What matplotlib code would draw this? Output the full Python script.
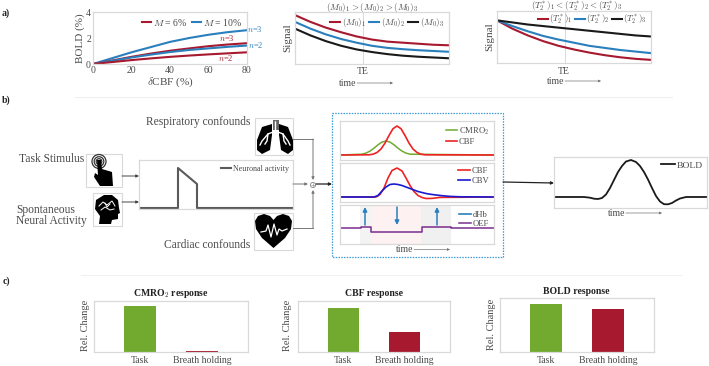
import matplotlib
matplotlib.use("Agg")
import matplotlib.pyplot as plt
from matplotlib.patches import Polygon, Circle, Rectangle
from matplotlib.lines import Line2D

plt.rcParams['font.family'] = ['Liberation Serif', 'DejaVu Serif']
plt.rcParams['mathtext.fontset'] = 'cm'

W, H = 709, 366
TXT = '#4a4a4a'
GRID = '#d9d9d9'
RED = '#a6192e'
BLUE = '#2a7fbd'
BLACK = '#1a1a1a'
GREEN = '#72a92f'
BRIGHT = '#ee2222'

# ---------- data ----------
cbf_pct = [0, 10, 20, 30, 40, 50, 60, 70, 80]
bold_m10_n3 = [0, .45, .90, 1.30, 1.70, 2.00, 2.25, 2.45, 2.60]
bold_m6_n3 = [0, .27, .55, .80, 1.02, 1.20, 1.37, 1.50, 1.60]
bold_m10_n2 = [0, .25, .50, .72, .92, 1.08, 1.20, 1.32, 1.42]
bold_m6_n2 = [0, .15, .30, .43, .55, .65, .74, .82, .90]

te_time = [0, 1, 2, 3, 4, 5, 6, 7, 8, 9, 10]
m0_1 = [.94, .81, .70, .61, .53, .47, .43, .41, .39, .37, .36]
m0_2 = [.81, .68, .57, .48, .41, .35, .31, .285, .265, .25, .235]
m0_3 = [.68, .55, .44, .35, .28, .23, .19, .16, .14, .125, .11]
t2_1 = [.82, .66, .53, .42, .33, .26, .20, .15, .11, .08, .06]
t2_2 = [.82, .71, .61, .52, .45, .39, .33, .29, .25, .22, .19]
t2_3 = [.82, .78, .74, .71, .68, .65, .62, .59, .56, .53, .51]

neuron_t = [0, 39, 39, 58, 58, 154]
neuron_y = [1, 1, 41, 25, 1, 1]

cbf_t = [0, 29, 33, 37, 41, 45, 49, 53, 57, 61, 65, 69, 73, 77, 81, 85, 154]
cbf_y = [5, 5.2, 5.8, 7.5, 11, 16.9, 24.5, 31.3, 34, 31.3, 24.5, 16.9, 11, 7.5, 5.8, 5.2, 5]
cmro_t = [0, 22, 26, 30, 34, 38, 42, 46, 50, 54, 58, 62, 66, 70, 154]
cmro_y = [5, 5.8, 6.9, 8.9, 11.8, 15.2, 17.9, 19, 17.9, 15.2, 11.8, 8.9, 6.9, 5.8, 5]
cbf2_t = [0, 36, 40, 44, 48, 52, 57, 62, 66, 70, 74, 78, 82, 86, 92, 100, 154]
cbf2_y = [5, 5, 7.5, 14, 24, 31.5, 34, 31, 24, 16.5, 10.5, 6.5, 4.5, 3.5, 3.6, 4.6, 5]
cbv_t = [0, 34, 38, 42, 46, 50, 54, 58, 62, 66, 70, 74, 78, 82, 86, 90, 96, 102, 110, 120, 154]
cbv_y = [5, 5, 6.5, 11, 15, 17.5, 18, 17.5, 16.5, 15, 13.5, 12, 10.5, 9.5, 8.5, 7.8, 7, 6.3, 5.6, 5.2, 5]
oef_t = [0, 21, 21, 31, 31, 82, 82, 111, 111, 154]
oef_y = [16, 16, 17, 17, 12, 12, 17, 17, 16, 16]

bold_t = [0, 30, 36, 40, 44, 48, 52, 56, 60, 64, 68, 72, 77, 82, 86, 90, 94, 98, 102, 106, 110, 114, 118, 122, 126, 132, 153]
bold_y = [11, 11, 10.3, 9.3, 9, 10, 13.5, 20, 28, 36, 42, 46.5, 48, 46, 42, 36, 28.5, 20, 12, 6.5, 3.8, 3.7, 5, 7.5, 9.5, 11, 11]

bar_labels = ['Task', 'Breath holding']
cmro_resp = [.90, .015]
cbf_resp = [.86, .39]
bold_resp = [.89, .80]

# ---------- helpers ----------
fig = plt.figure(figsize=(W / 100, H / 100), dpi=100, facecolor='white')


def px_axes(x0, y0, x1, y1, z=2):
    ax = fig.add_axes([x0 / W, 1 - y1 / H, (x1 - x0) / W, (y1 - y0) / H], zorder=z)
    for s in ax.spines.values():
        s.set_color(GRID)
        s.set_linewidth(0.9)
    ax.tick_params(length=0, colors=TXT, labelsize=7, pad=2)
    ax.set_xticks([])
    ax.set_yticks([])
    return ax


def small_legend(ax, handles, loc, fs=6.5, ncol=1, anchor=None, hl=1.6, cs=0.4):
    kw = {} if anchor is None else {'bbox_to_anchor': anchor}
    leg = ax.legend(handles=handles, loc=loc, ncol=ncol, frameon=False, fontsize=fs,
                    handlelength=hl, handletextpad=0.2, columnspacing=cs,
                    labelspacing=0.15, borderaxespad=0.1, borderpad=0.1, labelcolor=TXT, **kw)
    return leg


ov = fig.add_axes([0, 0, 1, 1], zorder=1)
ov.set_xlim(0, W)
ov.set_ylim(H, 0)
ov.axis('off')
top = fig.add_axes([0, 0, 1, 1], zorder=5)
top.set_xlim(0, W)
top.set_ylim(H, 0)
top.axis('off')


def label(x, y, s, ha='center', fs=8.3, **kw):
    kw.setdefault('color', TXT)
    top.text(x, y, s, ha=ha, va='center', fontsize=fs, **kw)


def arrow(x0, y0, x1, y1, color='#444444', lw=0.7, ms=4):
    top.annotate('', xy=(x1, y1), xytext=(x0, y0),
                 arrowprops=dict(arrowstyle='-|>', color=color, lw=lw, mutation_scale=ms,
                                 shrinkA=0, shrinkB=0))


def time_arrow(xt, y):
    label(xt, y, 'time', fs=7)
    arrow(xt + 9, y, xt + 45, y, color='#777777', lw=0.5, ms=3.5)


# section labels and separators
for x, y, s in [(2, 13, 'a)'), (2, 100, 'b)'), (3, 281, 'c)')]:
    label(x, y, s, ha='left', fs=7, fontweight='bold', color='#222222')
ov.plot([75, 672], [97, 97], color='#efefef', lw=0.8)
ov.plot([81, 681], [275, 275], color='#eef1f3', lw=0.8)

# ---------- panel a ----------
a1 = px_axes(93, 12, 247, 64)
a1.plot(cbf_pct, bold_m10_n3, color=BLUE, lw=1.5)
a1.plot(cbf_pct, bold_m6_n3, color=RED, lw=1.5)
a1.plot(cbf_pct, bold_m10_n2, color=BLUE, lw=1.5)
a1.plot(cbf_pct, bold_m6_n2, color=RED, lw=1.5)
a1.set_xlim(0, 80)
a1.set_ylim(0, 4)
a1.set_xticks([0, 20, 40, 60, 80])
a1.set_yticks([0, 2, 4])
a1.tick_params(labelsize=7, pad=1.5)
a1.set_xlabel(r'$\delta$CBF (%)', fontsize=8, color=TXT, labelpad=0)
a1.set_ylabel('BOLD (%)', fontsize=8, color=TXT, labelpad=1)
small_legend(a1, [Line2D([], [], color=RED, lw=1.5, label=r'$M$ = 6%'),
                  Line2D([], [], color=BLUE, lw=1.5, label=r'$M$ = 10%')],
             'upper right', fs=7, ncol=2, anchor=(0.985, 0.95), hl=1.0)
label(255, 29, r'$n$=3', fs=6, color=BLUE)
label(256, 45, r'$n$=2', fs=6, color=BLUE)
label(227, 38, r'$n$=3', fs=6, color=RED)
label(226, 58, r'$n$=2', fs=6, color=RED)

a2 = px_axes(295, 12, 449, 64)
a2.axvline(4.4, color=GRID, lw=0.7)
a2.plot(te_time, m0_1, color=RED, lw=1.5)
a2.plot(te_time, m0_2, color=BLUE, lw=1.5)
a2.plot(te_time, m0_3, color=BLACK, lw=1.5)
a2.set_xlim(0, 10)
a2.set_ylim(0, 1)
a2.set_ylabel('Signal', fontsize=8, color=TXT, labelpad=2)
small_legend(a2, [Line2D([], [], color=RED, lw=1.5, label=r'$(M_0)_1$'),
                  Line2D([], [], color=BLUE, lw=1.5, label=r'$(M_0)_2$'),
                  Line2D([], [], color=BLACK, lw=1.5, label=r'$(M_0)_3$')],
             'upper right', fs=6.5, ncol=3, anchor=(0.985, 0.95), hl=1.1, cs=0.3)
label(372, 7, r'$(M_0)_1 > (M_0)_2 > (M_0)_3$', fs=6.5)
label(363, 71, 'TE', fs=7)
time_arrow(348, 83)

a3 = px_axes(497, 11, 651, 63)
a3.axvline(4.4, color=GRID, lw=0.7)
a3.plot(te_time, t2_1, color=RED, lw=1.5)
a3.plot(te_time, t2_2, color=BLUE, lw=1.5)
a3.plot(te_time, t2_3, color=BLACK, lw=1.5)
a3.set_xlim(0, 10)
a3.set_ylim(0, 1)
a3.set_ylabel('Signal', fontsize=8, color=TXT, labelpad=2)
small_legend(a3, [Line2D([], [], color=RED, lw=1.5, label=r'$(T_2^*)_1$'),
                  Line2D([], [], color=BLUE, lw=1.5, label=r'$(T_2^*)_2$'),
                  Line2D([], [], color=BLACK, lw=1.5, label=r'$(T_2^*)_3$')],
             'upper right', fs=6.2, ncol=3, anchor=(0.985, 0.99), hl=1.1, cs=0.3)
label(577, 6, r'$(T_2^*)_1 < (T_2^*)_2 < (T_2^*)_3$', fs=6.5)
label(564, 71, 'TE', fs=7)
time_arrow(556, 81)

# ---------- panel b ----------
for x0, y0, x1, y1 in [(86, 154, 122, 187), (93, 193, 122, 226), (255, 118, 293, 155), (254, 213, 293, 250)]:
    ov.add_patch(Rectangle((x0, y0), x1 - x0, y1 - y0, fc='white', ec=GRID, lw=0.8))

# touch icon
for r in (7, 4.8, 2.8):
    ov.add_patch(Circle((99, 161.5), r, fc='none', ec='#333333', lw=0.9))
ov.add_patch(Polygon([(97, 160), (101, 160), (102, 169), (112, 172), (113, 186), (100, 186),
                      (94, 177), (95, 173), (98, 175)], fc='black', ec='none'))
# head icon
ov.add_patch(Polygon([(104, 195), (112, 195), (118, 200), (119, 208), (120, 213), (118, 214), (118, 219),
                      (112, 220), (111, 224), (99, 224), (100, 216), (95, 209), (96, 200)], fc='black', ec='none'))
for xs, ys in [([99, 103, 107, 112, 115], [206, 202, 205, 201, 206]),
               ([101, 105, 110, 114], [210, 207, 210, 209]),
               ([105, 107, 110], [203, 207, 204])]:
    ov.plot(xs, ys, color='white', lw=0.7)
# lungs icon
ov.add_patch(Polygon([(272, 124), (262, 127), (257, 140), (257, 150), (262, 154), (270, 150), (272, 135)], fc='black', ec='none'))
ov.add_patch(Polygon([(279, 124), (288, 127), (293, 140), (293, 150), (288, 154), (281, 150), (279, 135)], fc='black', ec='none'))
ov.add_patch(Rectangle((272.5, 120), 6, 10, fc='#666666', ec='none'))
for xs, ys in [([275.5, 275.5, 268, 262, 260], [122, 131, 134, 141, 145]), ([268, 267, 265], [134, 141, 144]),
               ([275.5, 283, 288, 290], [131, 134, 141, 145]), ([283, 284, 286], [134, 141, 144])]:
    ov.plot(xs, ys, color='white', lw=1.0)
# heart icon
ov.add_patch(Polygon([(273.5, 248), (262, 238), (256, 229), (255, 221), (258, 216), (264, 214), (270, 216), (273.5, 220),
                      (277, 216), (283, 214), (289, 216), (292, 221), (291, 229), (285, 238)], fc='black', ec='none'))
ov.plot([261, 266, 268, 271, 274, 277, 279, 282, 287], [232, 231, 225, 237, 224, 235, 229, 231, 229], color='white', lw=0.9)

label(84, 159, 'Task Stimulus', ha='right')
label(16, 210.5, 'Spontaneous', ha='left')
label(16, 221, 'Neural Activity', ha='left')
label(250, 122, 'Respiratory confounds', ha='right')
label(250, 245, 'Cardiac confounds', ha='right')

nb = px_axes(139, 160, 293, 209)
nb.plot(neuron_t, neuron_y, color='#5a5a5a', lw=1.5)
nb.set_xlim(0, 154)
nb.set_ylim(0, 49)
small_legend(nb, [Line2D([], [], color='#5a5a5a', lw=1.5, label='Neuronal activity')],
             'upper right', fs=5.8, anchor=(0.985, 0.93), hl=1.3)

arrow(122, 176, 139, 176)
arrow(122, 202, 139, 202)
arrow(293, 184, 308, 184, color='#777777')
ov.plot([293, 313], [139, 139], color='#777777', lw=0.7)
arrow(313, 139, 313, 180, color='#777777')
ov.plot([293, 313], [228, 228], color='#777777', lw=0.7)
arrow(313, 228, 313, 190, color='#777777')
top.add_patch(Circle((313, 185), 2.6, fc='white', ec='#888888', lw=0.6))
top.plot([311, 315], [185, 185], color='#888888', lw=0.4)
top.plot([313, 313], [183, 187], color='#888888', lw=0.4)
arrow(316, 184, 332, 184, color='#222222', lw=0.9)
arrow(503, 182, 554, 183, color='#222222', lw=0.9)

ov.add_patch(Rectangle((332, 113), 171, 144, fc='white', ec='#3f9bd0', lw=0.9, ls=(0, (1.2, 1.0))))

b1 = px_axes(340, 121, 494, 160)
b1.plot(cmro_t, cmro_y, color=GREEN, lw=1.1)
b1.plot(cbf_t, cbf_y, color=BRIGHT, lw=1.2)
b1.set_xlim(0, 154)
b1.set_ylim(0, 39)
small_legend(b1, [Line2D([], [], color=GREEN, lw=1.1, label=r'CMRO$_2$'),
                  Line2D([], [], color=BRIGHT, lw=1.2, label='CBF')],
             'upper right', fs=6.2, anchor=(0.98, 0.93), hl=1.3)

b2 = px_axes(340, 163, 494, 202)
b2.plot(cbf2_t, cbf2_y, color=BRIGHT, lw=1.2)
b2.plot(cbv_t, cbv_y, color='#1a1ad0', lw=1.2)
b2.set_xlim(0, 154)
b2.set_ylim(0, 39)
small_legend(b2, [Line2D([], [], color=BRIGHT, lw=1.2, label='CBF'),
                  Line2D([], [], color='#1a1ad0', lw=1.2, label='CBV')],
             'upper right', fs=6.2, anchor=(0.98, 0.93), hl=1.4)

b3 = px_axes(340, 205, 494, 244)
b3.axvspan(20, 31, color='#f3f3f3', lw=0)
b3.axvspan(31, 81, color='#fdf1f1', lw=0)
b3.axvspan(81, 111, color='#f0f0f1', lw=0)
b3.plot(oef_t, oef_y, color='#7b2d8e', lw=1.1)
b3.set_xlim(0, 154)
b3.set_ylim(0, 39)
small_legend(b3, [Line2D([], [], color=BLUE, lw=1.2, label='dHb'),
                  Line2D([], [], color='#7b2d8e', lw=1.1, label='OEF')],
             'upper right', fs=6.2, anchor=(0.98, 0.9), hl=1.4)
arrow(365, 225, 365, 207, color=BLUE, lw=1.1, ms=6)
arrow(397, 207, 397, 225, color=BLUE, lw=1.1, ms=6)
arrow(437, 225, 437, 207, color=BLUE, lw=1.1, ms=6)
time_arrow(405, 249.5)

bb = px_axes(554, 157, 707, 208)
bb.plot(bold_t, bold_y, color=BLACK, lw=1.3)
bb.set_xlim(0, 153)
bb.set_ylim(0, 51)
small_legend(bb, [Line2D([], [], color=BLACK, lw=1.3, label='BOLD')],
             'upper right', fs=6.8, anchor=(0.985, 0.96), hl=1.5)
time_arrow(617, 213)

# ---------- panel c ----------
for (x0, y0, x1, y1), vals, title, tx, ty, lx in [
    ((94, 301, 248, 352), cmro_resp, r'CMRO$_\mathbf{2}$ response', 171, 293, 85),
    ((298, 301, 450, 352), cbf_resp, 'CBF response', 374, 294, 288),
    ((500, 298, 654, 352), bold_resp, 'BOLD response', 576, 291, 491),
]:
    ax = px_axes(x0, y0, x1, y1)
    ax.bar([1, 2], vals, width=0.516, color=[GREEN, RED])
    ax.set_xlim(0.26, 2.74)
    ax.set_ylim(0, 1)
    ax.set_xticks([1, 2])
    ax.set_xticklabels(bar_labels, fontsize=7, color=TXT)
    ax.tick_params(axis='x', pad=3)
    label(lx, (y0 + y1) / 2 - 1, 'Rel. Change', fs=7.5, rotation=90)
    label(tx, ty, title, fs=7, fontweight='bold', color='#222222')

fig.savefig('out.png', dpi=100)
